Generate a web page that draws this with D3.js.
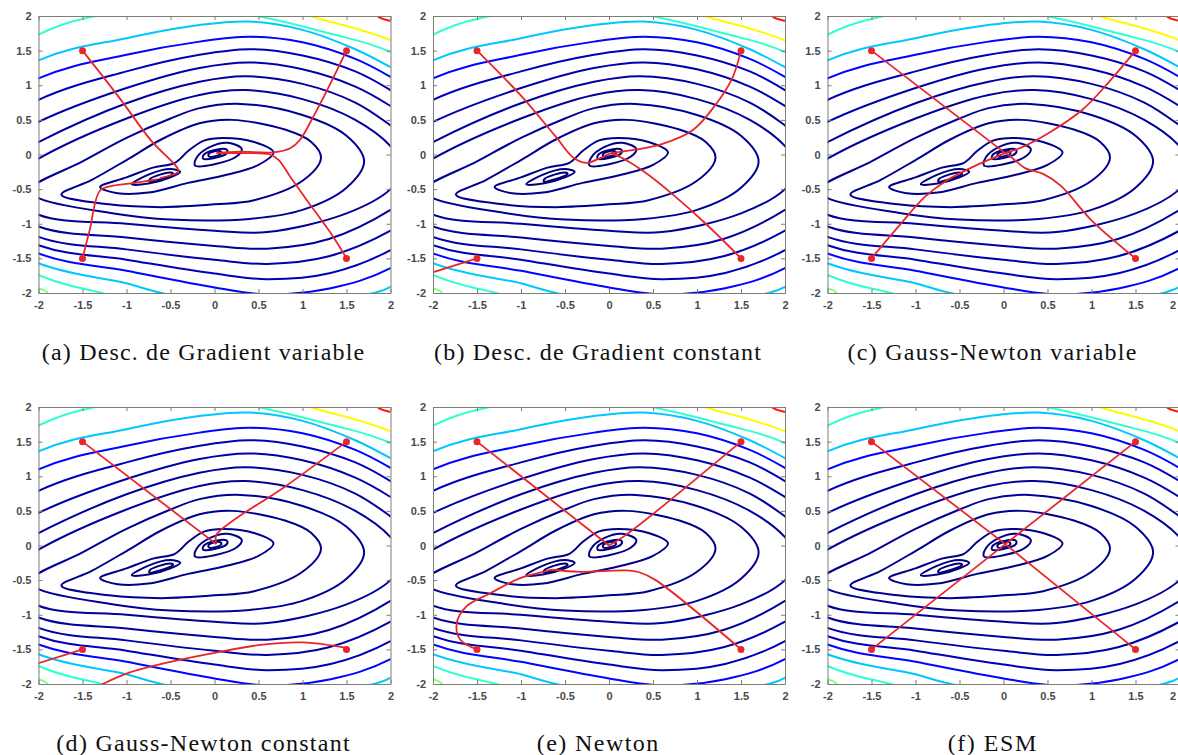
<!DOCTYPE html>
<html>
<head>
<meta charset="utf-8">
<script src="https://cdn.jsdelivr.net/npm/d3@7"></script>
<style>
  body { margin: 0; background: #fff; }
</style>
</head>
<body>
<div id="chart"></div>
<script>
// axis ticks (same on both axes)
var tickValues = [-2, -1.5, -1, -0.5, 0, 0.5, 1, 1.5, 2];
var tickLabels = ["-2", "-1.5", "-1", "-0.5", "0", "0.5", "1", "1.5", "2"];

var captions = [
    "(a) Desc. de Gradient variable",
    "(b) Desc. de Gradient constant",
    "(c) Gauss-Newton variable",
    "(d) Gauss-Newton constant",
    "(e) Newton",
    "(f) ESM"
];

// starting points of the four runs
var startPoints = [[-1.5, 1.5], [1.5, 1.5], [-1.5, -1.5], [1.5, -1.5]];

// contour level of each line (0..100 of the colour map)
var contourLevels = [0, 0, 0.5, 0.5, 1, 1.5, 2, 2.5, 3, 3.5, 4.5, 6, 13, 32, 42, 63, 50, 85];

// contour lines, closed loops in data units (parts outside the box are clipped)
var contourLines = [
    [[-0.06,-0.03],[0.02,-0.02],[0.08,0.02],[0.06,0.05],[-0.02,0.04],[-0.07,0.0]],
    [[-0.74,-0.39],[-0.62,-0.36],[-0.47,-0.28],[-0.5,-0.26],[-0.62,-0.29],[-0.73,-0.35]],
    [[-0.13,-0.06],[0.0,-0.05],[0.14,0.02],[0.14,0.07],[0.02,0.07],[-0.12,0.0]],
    [[-0.94,-0.43],[-0.75,-0.42],[-0.5,-0.33],[-0.39,-0.25],[-0.5,-0.21],[-0.75,-0.29]],
    [[-0.22,-0.16],[0.0,-0.14],[0.25,-0.03],[0.31,0.08],[0.15,0.17],[-0.05,0.11],[-0.2,-0.04]],
    [[-1.3,-0.47],[-1.0,-0.33],[-0.7,-0.19],[-0.45,-0.12],[-0.3,0.05],[-0.12,0.2],[0.1,0.24],[0.45,0.18],[0.67,0.03],[0.5,-0.15],[0.15,-0.29],[-0.3,-0.41],[-0.75,-0.55],[-1.1,-0.56]],
    [[-1.74,-0.58],[-1.4,-0.37],[-1.0,-0.08],[-0.6,0.22],[-0.17,0.45],[0.2,0.5],[0.8,0.36],[1.1,0.18],[1.21,-0.05],[1.0,-0.38],[0.45,-0.66],[0,-0.72],[-0.6,-0.76],[-1.2,-0.72]],
    [[-2.1,-0.51],[-1.5,-0.1],[-1.0,0.24],[-0.5,0.52],[-0.17,0.67],[0.3,0.73],[1.0,0.57],[1.5,0.27],[1.7,-0.1],[1.5,-0.48],[1.0,-0.8],[0.4,-0.93],[-0.5,-0.94],[-1.2,-0.84],[-2.0,-0.63]],
    [[-2.45,-0.45],[-2.0,-0.06],[-1.0,0.52],[-0.17,0.86],[0.35,0.93],[1.0,0.8],[1.6,0.5],[2.0,0.12],[2.15,-0.2],[2.0,-0.5],[1.5,-0.85],[0.6,-1.12],[0,-1.1],[-1.0,-1.0],[-2.0,-0.87]],
    [[-2.8,-0.4],[-2.0,0.18],[-1.0,0.74],[-0.17,1.05],[0.35,1.13],[1.0,1.02],[1.6,0.75],[2.0,0.42],[2.6,-0.2],[2.0,-0.8],[1.3,-1.22],[0.6,-1.36],[0,-1.32],[-1.0,-1.2],[-2.0,-1.04]],
    [[-3.1,-0.35],[-2.0,0.47],[-1.0,0.96],[-0.17,1.25],[0.4,1.33],[1.0,1.23],[1.6,0.98],[2.0,0.7],[3.0,-0.2],[2.0,-1.1],[1.3,-1.47],[0.6,-1.58],[0,-1.52],[-1.0,-1.37],[-2.0,-1.19]],
    [[-3.4,-0.3],[-2.0,0.79],[-1.0,1.2],[-0.17,1.44],[0.4,1.52],[1.0,1.43],[1.6,1.2],[2.0,0.93],[3.3,-0.2],[2.0,-1.38],[1.32,-1.71],[0.6,-1.8],[0,-1.72],[-1.0,-1.52],[-2.0,-1.31]],
    [[-3.7,-0.25],[-2.0,1.1],[-1.0,1.44],[-0.17,1.63],[0.4,1.7],[1.0,1.62],[1.6,1.38],[2.0,1.12],[3.6,-0.2],[2.0,-1.64],[1.32,-1.93],[0.6,-2.02],[0,-1.92],[-1.0,-1.68],[-2.0,-1.43]],
    [[-4.0,-0.2],[-2.0,1.36],[-1.0,1.68],[-0.17,1.87],[0.4,1.92],[1.0,1.8],[1.6,1.52],[2.0,1.26],[3.9,-0.2],[2.0,-1.91],[1.81,-2.0],[0.6,-2.25],[-0.6,-2.0],[-1.0,-1.86],[-2.0,-1.57]],
    [[-4.2,-0.1],[-2.0,1.73],[-1.35,2.0],[-0.4,2.15],[0.48,2.0],[1.3,1.75],[2.0,1.48],[4.2,-0.2],[2.0,-2.2],[0.5,-2.5],[-1.28,-2.0],[-2.0,-1.74]],
    [[0.3,2.4],[1.09,2.0],[1.6,1.82],[2.0,1.65],[2.6,1.3],[3.0,2.5]],
    [[-2.3,-1.8],[-2.0,-1.93],[-1.9,-2.0],[-2.2,-2.3]],
    [[1.7,2.3],[1.85,2.0],[2.0,1.93],[2.3,1.9],[2.3,2.4]]
];

// optimisation paths, one list of polylines per panel
var pathsA = [
    [[-1.5,1.5],[-1.1,0.85],[-0.72,0.2],[-0.41,-0.24],[-0.5,-0.3],[-0.62,-0.34]],
    [[1.5,1.5],[1.28,0.93],[1.12,0.54],[0.97,0.21],[0.86,0.09],[0.67,0.03],[0.29,0.04],[0.02,0.02]],
    [[-1.5,-1.5],[-1.42,-1.1],[-1.3,-0.52],[-1.15,-0.45],[-0.9,-0.41],[-0.65,-0.36]],
    [[1.5,-1.5],[1.35,-1.19],[1.05,-0.66],[0.86,-0.32],[0.73,-0.08],[0.63,0.0],[0.29,0.02],[0.03,0.02]]
];
var pathsB = [
    [[-1.5,1.5],[-1.0,0.85],[-0.6,0.25],[-0.4,-0.05],[-0.25,-0.12],[-0.1,-0.05],[0.02,0.02]],
    [[1.5,1.5],[1.4,1.1],[1.2,0.7],[0.95,0.35],[0.6,0.15],[0.3,0.07],[0.02,0.02]],
    [[-1.5,-1.5],[-2.05,-1.72]],
    [[1.5,-1.5],[1.1,-1.0],[0.7,-0.55],[0.4,-0.25],[0.15,-0.05],[0.02,0.02]]
];
var pathsC = [
    [[-1.5,1.5],[0.02,0.02]],
    [[1.5,1.5],[1.2,1.05],[0.9,0.65],[0.5,0.3],[0.2,0.1],[0.02,0.02]],
    [[-1.5,-1.5],[-1.2,-1.05],[-0.9,-0.62],[-0.65,-0.38],[-0.3,-0.15],[0.02,0.02]],
    [[1.5,-1.5],[1.0,-0.95],[0.65,-0.45],[0.45,-0.28],[0.25,-0.2],[0.1,-0.05],[0.02,0.02]]
];
var pathsD = [
    [[-1.5,1.5],[0.02,0.02]],
    [[1.5,1.5],[0.8,0.85],[0.2,0.35],[0.02,0.15],[0.02,0.02]],
    [[-1.5,-1.5],[-2.05,-1.72]],
    [[1.5,-1.48],[1.0,-1.4],[0.5,-1.44],[0,-1.55],[-0.5,-1.68],[-1.0,-1.85],[-1.3,-2.02]]
];
var pathsE = [
    [[-1.5,1.5],[0.0,0.0]],
    [[1.5,1.5],[0.19,0.15],[0.0,0.0]],
    [[-1.5,-1.5],[-1.69,-1.36],[-1.73,-1.12],[-1.62,-0.88],[-1.35,-0.69],[-1.01,-0.47],[-0.75,-0.38],[-0.64,-0.35]],
    [[1.5,-1.5],[0.53,-0.5],[0.35,-0.39],[0.19,-0.36],[-0.33,-0.38],[-0.64,-0.35]]
];
var pathsF = [
    [[-1.5,1.5],[0.02,0.02]],
    [[1.5,1.5],[0.02,0.02]],
    [[-1.5,-1.5],[0.02,0.02]],
    [[1.5,-1.5],[0.02,0.02]]
];
var panelPaths = [pathsA, pathsB, pathsC, pathsD, pathsE, pathsF];

// layout
var svgWidth = 1178, svgHeight = 755;
var plotWidth = 352, plotHeight = 277;
var colLefts = [38.5, 433, 827.5];
var rowTops = [16, 407];

var svg = d3.select("#chart").append("svg")
    .attr("width", svgWidth)
    .attr("height", svgHeight);

// jet colour map
var jet = d3.scaleLinear()
    .domain([0, 0.125, 0.375, 0.625, 0.875, 1])
    .range(["#00007a", "#0000ff", "#00ffff", "#ffff00", "#ff0000", "#800000"]);
var levelScale = d3.scaleLinear().domain([0, 100]).range([0, 1]);

var xScale = d3.scaleLinear().domain([-2, 2]).range([0, plotWidth]);
var yScale = d3.scaleLinear().domain([-2, 2]).range([plotHeight, 0]);

var contourLine = d3.line()
    .x(d => xScale(d[0]))
    .y(d => yScale(d[1]))
    .curve(d3.curveCatmullRomClosed.alpha(0.5));

var pathLine = d3.line()
    .x(d => xScale(d[0]))
    .y(d => yScale(d[1]))
    .curve(d3.curveCatmullRom.alpha(0.5));

captions.forEach(function(caption, i) {
    var col = i % 3, row = Math.floor(i / 3);
    var g = svg.append("g")
        .attr("transform", `translate(${colLefts[col]}, ${rowTops[row]})`);

    g.append("clipPath")
        .attr("id", "clip" + i)
        .append("rect")
        .attr("width", plotWidth)
        .attr("height", plotHeight);

    var plot = g.append("g").attr("clip-path", `url(#clip${i})`);

    // contours
    plot.selectAll("path.contour")
        .data(contourLines)
        .enter()
        .append("path")
        .attr("class", "contour")
        .attr("d", contourLine)
        .attr("fill", "none")
        .attr("stroke", (d, j) => jet(levelScale(contourLevels[j])))
        .attr("stroke-width", 2);

    // optimisation paths
    plot.selectAll("path.run")
        .data(panelPaths[i])
        .enter()
        .append("path")
        .attr("class", "run")
        .attr("d", pathLine)
        .attr("fill", "none")
        .attr("stroke", "#e8262a")
        .attr("stroke-width", 1.8);

    g.selectAll("circle")
        .data(startPoints)
        .enter()
        .append("circle")
        .attr("cx", d => xScale(d[0]))
        .attr("cy", d => yScale(d[1]))
        .attr("r", 3.5)
        .attr("fill", "#e8262a");

    // box with inward ticks (matlab style)
    var bottomAxis = d3.axisBottom(xScale).tickValues(tickValues)
        .tickFormat((d, j) => tickLabels[j]).tickSizeInner(-4).tickSizeOuter(0).tickPadding(8);
    var leftAxis = d3.axisLeft(yScale).tickValues(tickValues)
        .tickFormat((d, j) => tickLabels[j]).tickSizeInner(-4).tickSizeOuter(0).tickPadding(7);
    var topAxis = d3.axisTop(xScale).tickValues(tickValues)
        .tickFormat("").tickSizeInner(-4).tickSizeOuter(0);
    var rightAxis = d3.axisRight(yScale).tickValues(tickValues)
        .tickFormat("").tickSizeInner(-4).tickSizeOuter(0);

    var xAxisG = g.append("g").attr("class", "axis")
        .attr("transform", `translate(0, ${plotHeight})`).call(bottomAxis);
    g.append("g").attr("class", "axis").call(leftAxis);
    g.append("g").attr("class", "axis").call(topAxis);
    g.append("g").attr("class", "axis")
        .attr("transform", `translate(${plotWidth}, 0)`).call(rightAxis);

    g.selectAll(".axis path, .axis line").attr("stroke", "#7d7d74");
    g.selectAll(".axis text")
        .attr("font-family", "Liberation Sans, Arial, sans-serif")
        .attr("font-size", 11)
        .attr("font-weight", "bold")
        .attr("fill", "#4a4a4a");

    // last column runs into the page edge: keep its final label inside
    if (col === 2) {
        xAxisG.selectAll(".tick text")
            .filter(d => d === 2)
            .attr("text-anchor", "end")
            .attr("dx", -4);
    }

    // caption under the panel (LaTeX style)
    var cap = svg.append("text")
        .attr("x", colLefts[col] - 23 + (plotWidth + 23) / 2)
        .attr("y", rowTops[row] + 344)
        .attr("text-anchor", "middle")
        .attr("font-family", "Liberation Serif, Times New Roman, serif")
        .attr("font-size", 24)
        .attr("fill", "#111")
        .text(caption);
    var w = cap.node().getComputedTextLength();
    cap.attr("textLength", w * 1.117).attr("lengthAdjust", "spacing");
});
</script>
</body>
</html>
